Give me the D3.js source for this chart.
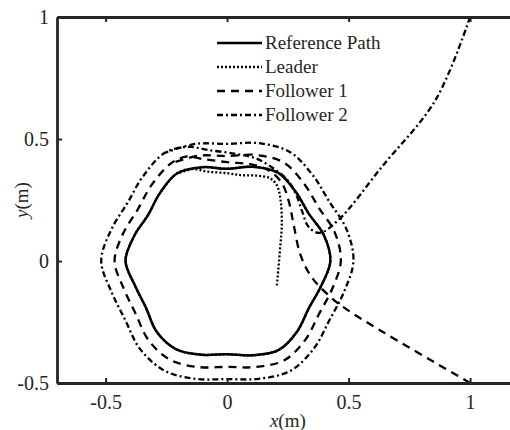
<!DOCTYPE html>
<html>
  <head>
    <meta charset="utf-8">
    <title>Formation paths</title>
    <script src="https://cdnjs.cloudflare.com/ajax/libs/d3/7.8.5/d3.min.js"></script>
    <style>
      body { margin: 0; background: #fff; }
      text { font-family: "Liberation Serif", serif; fill: #262626; }
    </style>
  </head>
  <body>
    <script>
      // ring samples, polar (degrees, metres)
      var ringAngles = [0, 15, 30, 45, 60, 75, 90, 105, 120, 135, 150, 165,
                        180, 195, 210, 225, 240, 255, 270, 285, 300, 315, 330, 345];
      var refRadius = [0.425, 0.412, 0.388, 0.400, 0.418, 0.400, 0.378, 0.398, 0.414, 0.392, 0.376, 0.396,
                       0.418, 0.392, 0.385, 0.410, 0.418, 0.398, 0.382, 0.400, 0.422, 0.408, 0.388, 0.400];
      var f1Radius  = [0.468, 0.458, 0.436, 0.448, 0.466, 0.450, 0.430, 0.447, 0.462, 0.440, 0.424, 0.442,
                       0.463, 0.440, 0.434, 0.458, 0.468, 0.450, 0.434, 0.450, 0.470, 0.456, 0.436, 0.447];
      var f2Radius  = [0.520, 0.508, 0.486, 0.498, 0.516, 0.500, 0.480, 0.497, 0.512, 0.490, 0.474, 0.494,
                       0.518, 0.492, 0.484, 0.508, 0.518, 0.500, 0.484, 0.500, 0.520, 0.506, 0.486, 0.497];

      // start-up transients before each agent settles on its ring
      var leaderStart = [[0.205, -0.10], [0.218, 0.05], [0.225, 0.15], [0.220, 0.25], [0.205, 0.31],
                         [0.175, 0.34], [0.12, 0.350], [0.055, 0.352], [0.0, 0.360], [-0.08, 0.366],
                         [-0.15, 0.378]];
      var follower1Start = [[1.0, -0.5], [0.508, -0.209], [0.426, -0.148], [0.348, -0.066], [0.302, 0.025],
                            [0.274, 0.148], [0.255, 0.24], [0.225, 0.32], [0.17, 0.372], [0.10, 0.396],
                            [0.0, 0.405], [-0.10, 0.418], [-0.17, 0.428]];
      var follower2Start = [[1.0, 1.0], [0.858, 0.66], [0.636, 0.385], [0.46, 0.17], [0.38, 0.115],
                            [0.335, 0.14], [0.31, 0.20], [0.285, 0.27], [0.25, 0.33], [0.19, 0.38],
                            [0.12, 0.42], [0.03, 0.44], [-0.08, 0.455], [-0.16, 0.468]];
      var joinIndex = 8;   // agents join their ring near 120 deg

      var xTicks = [-0.5, 0, 0.5, 1];
      var yTicks = [-0.5, 0, 0.5, 1];
      var legendNames = ["Reference Path", "Leader", "Follower 1", "Follower 2"];

      var width = 510, height = 430;
      var svg = d3.select("body").append("svg")
        .attr("width", width)
        .attr("height", height);

      var x = d3.scaleLinear().domain([-0.7, 1.2]).range([57, 518.7]);
      var y = d3.scaleLinear().domain([-0.5, 1]).range([383, 17]);

      function ringPoints(radius){
        return ringAngles.map(function (a, i){
          var t = a * Math.PI / 180;
          return [radius[i] * Math.cos(t), radius[i] * Math.sin(t)];
        });
      }
      function fromJoin(pts){
        var out = [];
        for (var k = 0; k <= pts.length; k++) out.push(pts[(joinIndex + k) % pts.length]);
        return out;
      }

      var refPts = ringPoints(refRadius);
      var leaderPts = leaderStart.concat(fromJoin(refPts));
      var f1Pts = follower1Start.concat(fromJoin(ringPoints(f1Radius)));
      var f2Pts = follower2Start.concat(fromJoin(ringPoints(f2Radius)));

      svg.append("clipPath").attr("id", "plot")
        .append("rect")
          .attr("x", x(-0.7)).attr("y", y(1))
          .attr("width", x(1.2) - x(-0.7)).attr("height", y(-0.5) - y(1));

      var line = d3.line()
        .x(function (d){ return x(d[0]); })
        .y(function (d){ return y(d[1]); });

      var styles = [
        { dash: null },
        { dash: "2,2" },
        { dash: "8,6" },
        { dash: "6,3,2,3" }
      ];

      var g = svg.append("g").attr("clip-path", "url(#plot)");

      g.append("path")
        .attr("d", line.curve(d3.curveCatmullRomClosed)(refPts))
        .attr("fill", "none").attr("stroke", "#000").attr("stroke-width", 2.5);

      [leaderPts, f1Pts, f2Pts].forEach(function (pts, i){
        g.append("path")
          .attr("d", line.curve(d3.curveCatmullRom)(pts))
          .attr("fill", "none").attr("stroke", "#000").attr("stroke-width", 2.3)
          .attr("stroke-dasharray", styles[i + 1].dash);
      });

      // axes, ticks inward
      var axisColor = "#262626";
      var fmt = function (d){ return String(d); };
      var xAxis = svg.append("g")
        .attr("transform", "translate(0," + y(-0.5) + ")")
        .call(d3.axisBottom(x).tickValues(xTicks).tickSizeInner(-5).tickSizeOuter(0)
          .tickPadding(12).tickFormat(fmt));
      var topAxis = svg.append("g")
        .attr("transform", "translate(0," + y(1) + ")")
        .call(d3.axisTop(x).tickValues(xTicks).tickSizeInner(-5).tickSizeOuter(0)
          .tickFormat(""));
      var yAxis = svg.append("g")
        .attr("transform", "translate(" + x(-0.7) + ",0)")
        .call(d3.axisLeft(y).tickValues(yTicks).tickSizeInner(-5).tickSizeOuter(0)
          .tickPadding(8).tickFormat(fmt));

      [xAxis, topAxis, yAxis].forEach(function (a){
        a.selectAll("path").attr("stroke", axisColor).attr("stroke-width", 2.8);
        a.selectAll("line").attr("stroke", axisColor).attr("stroke-width", 2);
        a.selectAll("text").attr("font-size", 20).attr("fill", axisColor)
          .style("font-family", "Liberation Serif, serif");
      });

      // axis labels
      var xl = svg.append("text")
        .attr("x", x(0.25)).attr("y", 427)
        .attr("text-anchor", "middle").attr("font-size", 19);
      xl.append("tspan").attr("font-style", "italic").text("x");
      xl.append("tspan").text("(m)");

      var yl = svg.append("text")
        .attr("transform", "translate(28," + y(0.25) + ") rotate(-90)")
        .attr("text-anchor", "middle").attr("font-size", 19);
      yl.append("tspan").attr("font-style", "italic").text("y");
      yl.append("tspan").text("(m)");

      // legend
      var legend = svg.append("g").selectAll("g")
        .data(legendNames)
        .enter().append("g")
          .attr("transform", function (d, i){ return "translate(217," + (43 + i * 24) + ")"; });
      legend.append("line")
        .attr("x1", 0).attr("x2", 45)
        .attr("stroke", "#000").attr("stroke-width", 2.3)
        .attr("stroke-dasharray", function (d, i){ return styles[i].dash; });
      legend.append("text")
        .attr("x", 48).attr("dy", "0.33em")
        .attr("font-size", 19)
        .text(function (d){ return d; });
    </script>
  </body>
</html>
